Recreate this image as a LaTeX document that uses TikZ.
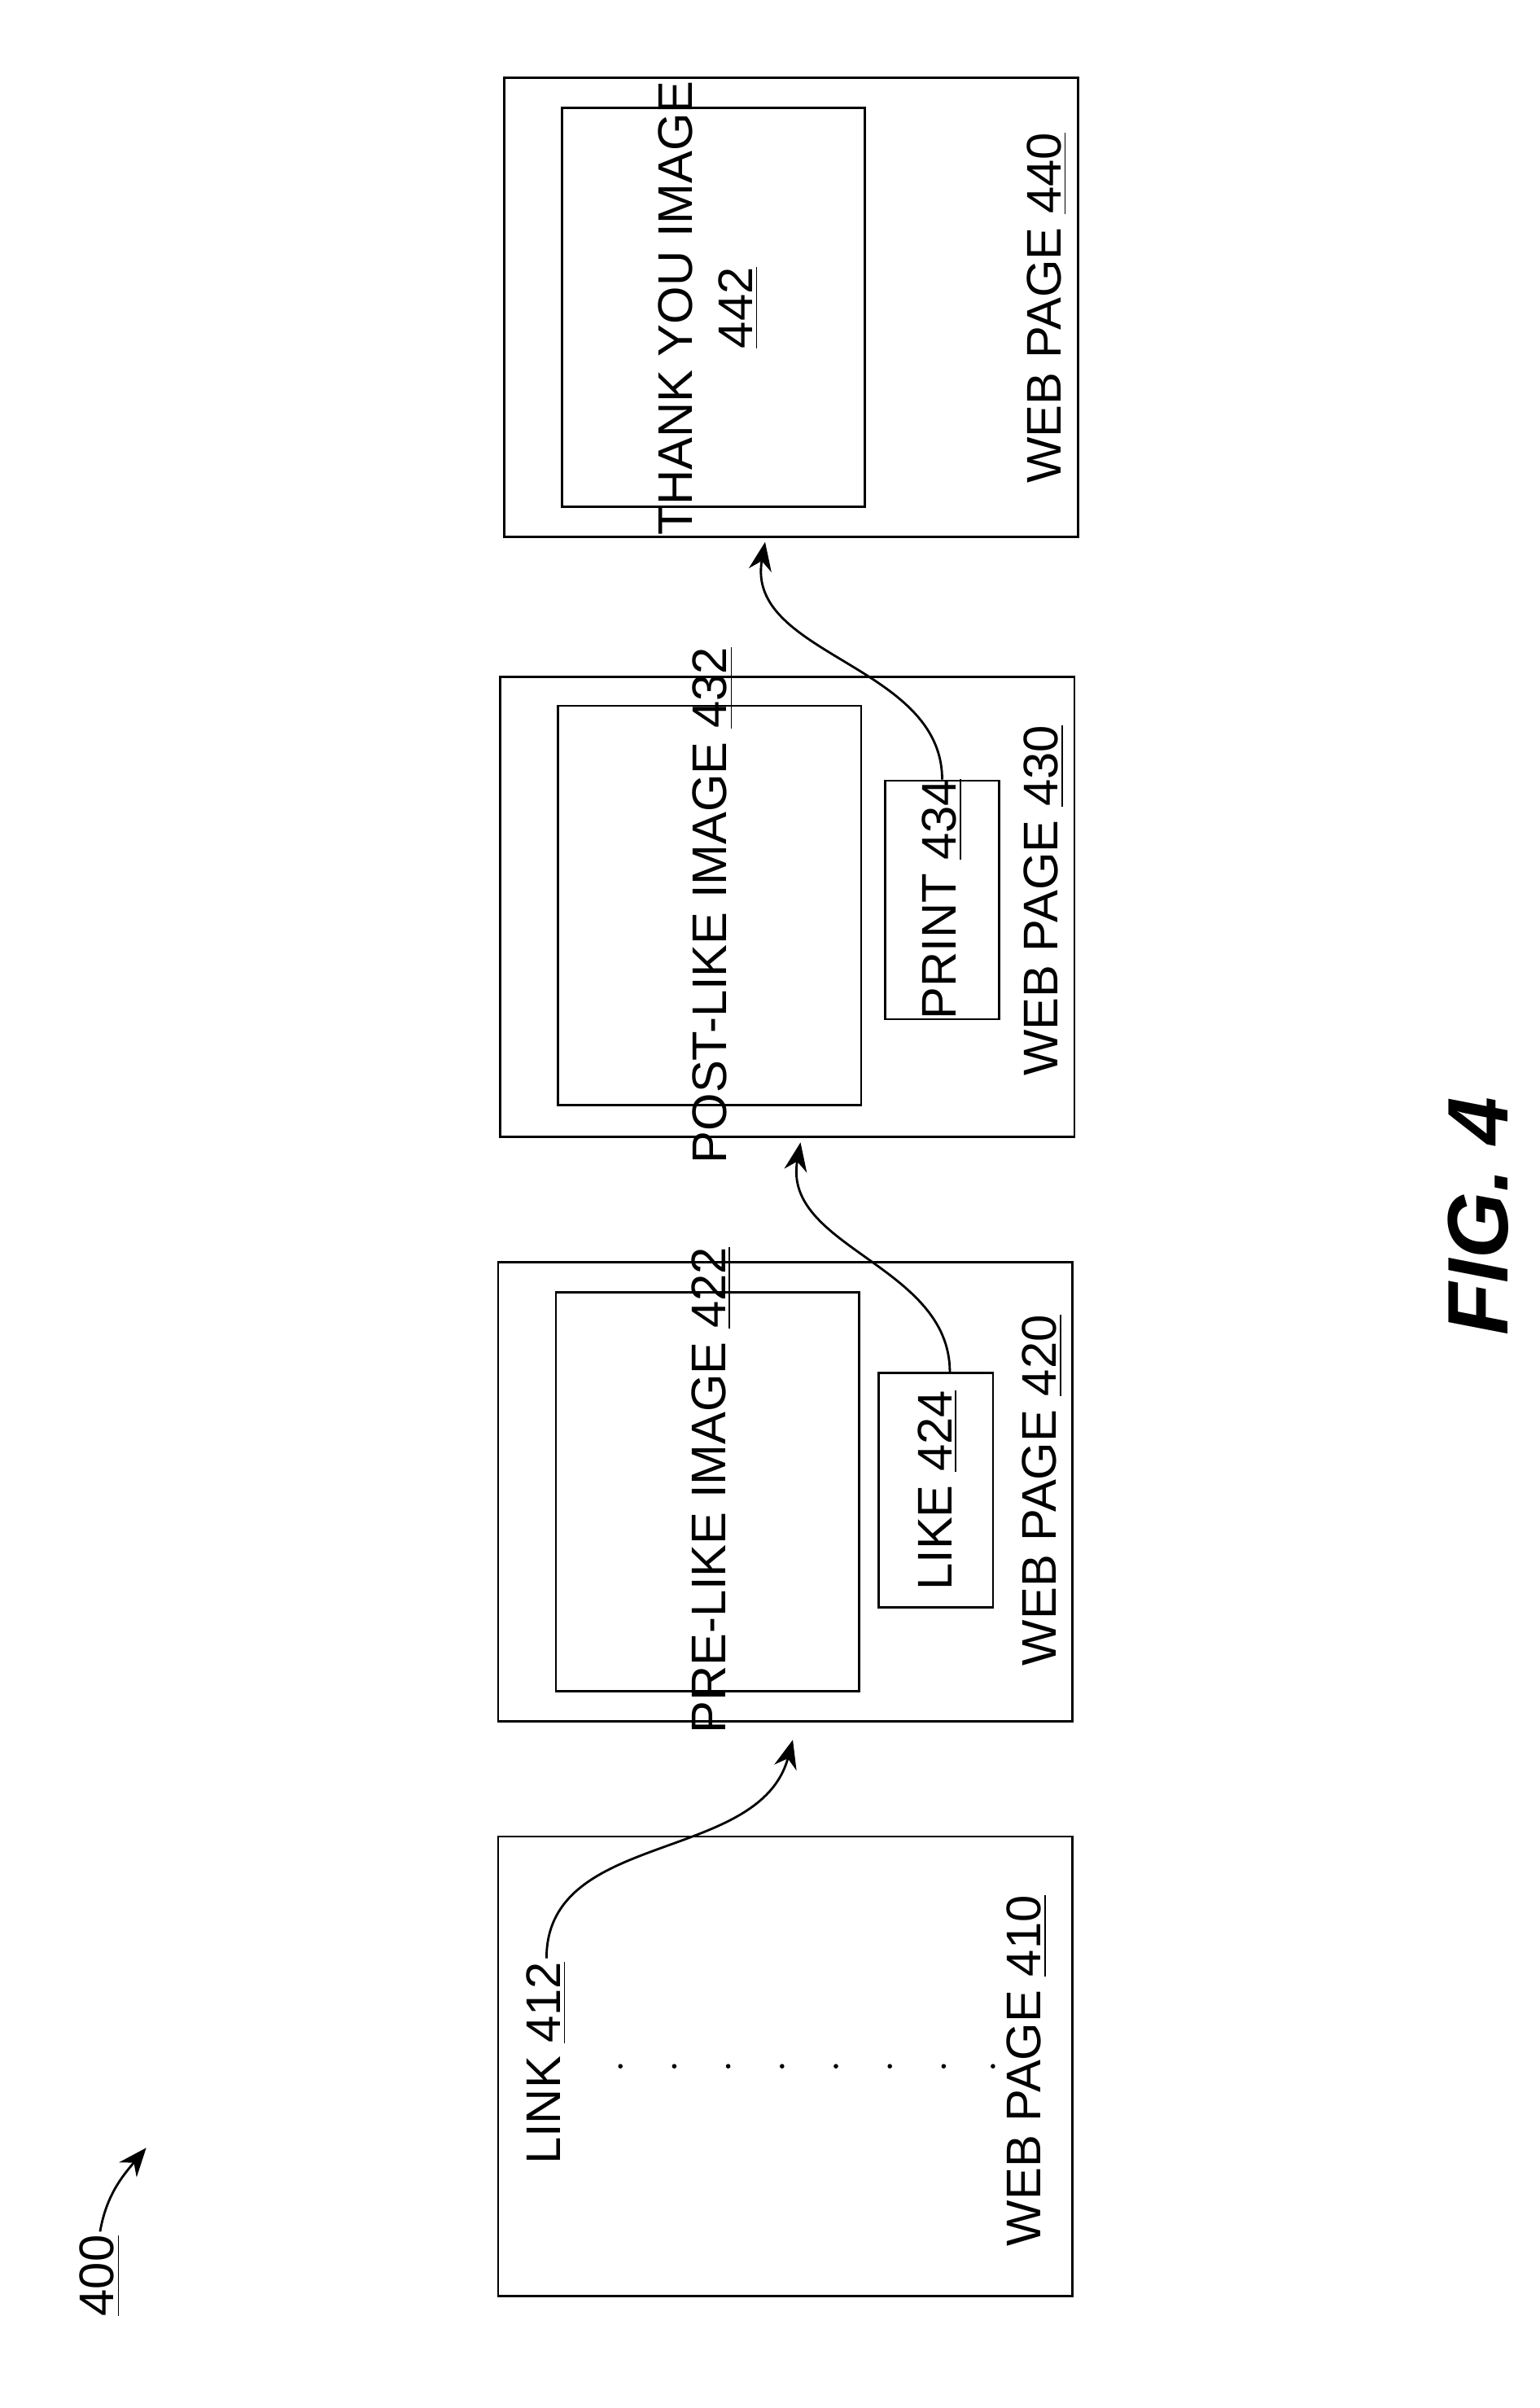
\documentclass[tikz,border=0pt]{standalone}
\usepackage{fontspec}
\setmainfont{Liberation Sans}
\usetikzlibrary{arrows.meta}
\begin{document}
\begin{tikzpicture}
	    [x=0.01891cm, y=-0.01891cm,
	    page/.style={draw, thick, minimum width=7.05cm, minimum height=5.64cm, inner sep=0pt},
	    image/.style={draw, thick, minimum width=3.72cm, minimum height=4.9cm, inner sep=0pt},
	    button/.style={draw, thick, minimum width=1.4cm, minimum height=2.88cm, inner sep=0pt},
	    label/.style={rotate=90, inner sep=1pt, font=\fontsize{17}{21}\selectfont, align=center},
	    flow/.style={->, thick, >={Stealth[length=10pt, width=8pt]}}]
	     \useasboundingbox (0,0) rectangle (1000,1564);
	     \node[page] (W410) at (510, 1342) {};
	     \node[page] (W420) at (510, 969) {};
	     \node[page] (W430) at (511.5, 589) {};
	     \node[page] (W440) at (514, 199.5) {};
	     \node[image] (I422) at (459.5, 969) {};
	     \node[image] (I432) at (461, 588) {};
	     \node[image] (I442) at (463.5, 199.5) {};
	     \node[button] (B424) at (608, 968) {};
	     \node[button, minimum height=2.93cm] (B434) at (612, 584.5) {};
	     \node[label] (T410) at (667, 1345) {WEB PAGE \underline{410}};
	     \node[label] (T420) at (677, 968) {WEB PAGE \underline{420}};
	     \node[label] (T430) at (678, 585) {WEB PAGE \underline{430}};
	     \node[label] (T440) at (680, 200) {WEB PAGE \underline{440}};
	     \node[label] (T422) at (462, 968) {PRE-LIKE IMAGE \underline{422}};
	     \node[label] (T432) at (463, 588) {POST-LIKE IMAGE \underline{432}};
	     \node[label] (T442) at (460, 200) {THANK YOU IMAGE\\\underline{442}};
	     \node[label] (T424) at (609, 968) {LIKE \underline{424}};
	     \node[label] (T434) at (612, 584) {PRINT \underline{434}};
	     \node[label] (L412) at (355, 1340) {LINK \underline{412}};
	     \foreach \y in {403, 438, 473, 508, 543, 578, 613, 645}
	         \fill (\y, 1342) circle (0.8pt);
	     \node[label] (N400) at (65, 1478) {\underline{400}};
	     \coordinate (A400) at (95, 1395);
	     \draw[flow] (N400.east) to[out=80, in=-130] (A400);
	     \coordinate (A420) at (515, 1130);
	     \coordinate (A430) at (520, 742);
	     \coordinate (A440) at (497, 352);
	     \draw[flow] (L412.east) to[out=90, in=-105] (A420);
	     \draw[flow] (B424.north -| 617, 0) to[out=90, in=-100] (A430);
	     \draw[flow] (B434.north -| 612, 0) to[out=90, in=-100] (A440);
	     \node[rotate=90, font=\fontsize{30}{36}\selectfont\bfseries\itshape] (FIG) at (960, 790) {FIG. 4};
	\end{tikzpicture}
\end{document}
